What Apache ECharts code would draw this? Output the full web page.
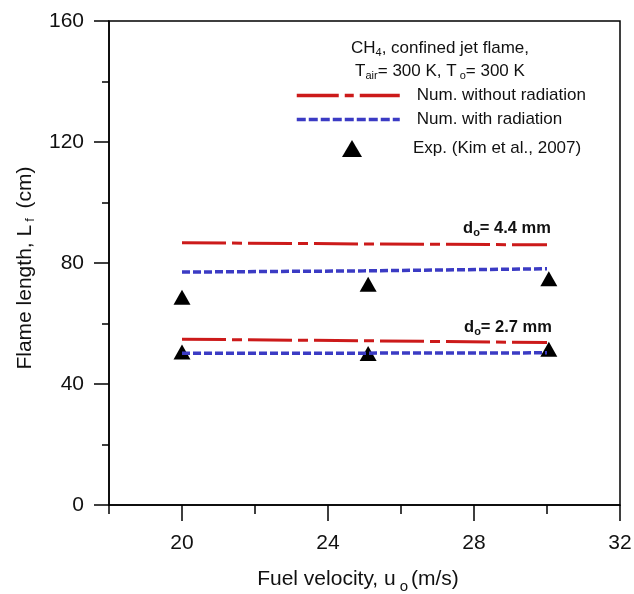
<!DOCTYPE html>
<html><head><meta charset="utf-8">
<script src="https://cdn.jsdelivr.net/npm/echarts@6/dist/echarts.min.js"></script>
<style>html,body{margin:0;padding:0;background:#fff}#c{width:634px;height:594px}</style>
</head><body><div id="c"></div>
<script>
const xTicks = [20, 24, 28, 32];
const xMinorTicks = [18, 22, 26, 30];
const lineX = [20, 25, 30];
const red44 = [86.7, 86.3, 86.0];
const blue44 = [77.0, 77.4, 78.1];
const red27 = [54.8, 54.3, 53.7];
const blue27 = [50.2, 50.2, 50.3];
const expX = [20, 25.1, 30.05];
const exp44 = [68.7, 73.0, 74.8];
const exp27 = [50.6, 50.1, 51.5];

const FONT = 'Liberation Sans, Arial, sans-serif';
const TXT = '#111';
const RED = '#cc1a1a', BLUE = '#3b3bc4';
const zip = (xs, ys) => xs.map((x, i) => [x, ys[i]]);

const redStyle = {color: RED, width: 3, type: [44, 6, 10, 6]};
const blueStyle = {color: BLUE, width: 3.5, type: [8, 3]};
const subRich = (fs, extra) => ({sub: Object.assign({fontSize: fs, verticalAlign: 'bottom', padding: [9, 0, 0, 0]}, extra || {})});

const chart = echarts.init(document.getElementById('c'));
chart.setOption({
  animation: false,
  textStyle: {fontFamily: FONT},
  grid: {left: 109, right: 14, top: 21, bottom: 89, show: true, borderColor: '#000', borderWidth: 1.5,
    containLabel: false, outerBoundsMode: 'none'},
  xAxis: [{
    type: 'value', min: 18, max: 32, position: 'bottom',
    axisLine: {show: true, lineStyle: {color: '#000', width: 1.5}},
    axisTick: {show: true, length: 16, customValues: xTicks, lineStyle: {color: '#000', width: 1.5}},
    axisLabel: {customValues: xTicks, color: TXT, fontSize: 21, margin: 28, fontFamily: FONT},
    splitLine: {show: false},
    name: 'Fuel velocity, u{sub|o}(m/s)', nameLocation: 'middle', nameGap: 60,
    nameTextStyle: {fontSize: 21, color: TXT, fontFamily: FONT, padding: [0, 13, 0, 0],
      rich: {sub: {fontSize: 15, verticalAlign: 'bottom', padding: [14, 3, 0, 4]}}}
  }, {
    type: 'value', min: 18, max: 32, position: 'bottom',
    axisLine: {show: false},
    axisTick: {show: true, length: 9, customValues: xMinorTicks, lineStyle: {color: '#000', width: 1.5}},
    axisLabel: {show: false}, splitLine: {show: false}
  }],
  yAxis: [{
    type: 'value', min: 0, max: 160, interval: 40, position: 'left',
    axisLine: {show: true, lineStyle: {color: '#000', width: 1.5}},
    axisTick: {show: true, length: 15, lineStyle: {color: '#000', width: 1.5}},
    minorTick: {show: true, splitNumber: 2, length: 7, lineStyle: {color: '#000', width: 1.5}},
    axisLabel: {color: TXT, fontSize: 21, margin: 25, fontFamily: FONT},
    splitLine: {show: false}, minorSplitLine: {show: false},
    name: 'Flame length, L{sub|f} (cm)', nameLocation: 'middle', nameGap: 72,
    nameTextStyle: {fontSize: 21, color: TXT, fontFamily: FONT, padding: [0, 10, 0, 0],
      rich: {sub: {fontSize: 13, verticalAlign: 'bottom', padding: [11, 4, 0, 3]}}}
  }],
  legend: [{
    data: [
      {name: 'Num. without radiation', itemStyle: {opacity: 0}, lineStyle: {color: RED, width: 3.5, type: [42, 6, 9, 6]}},
      {name: 'Num. with radiation', itemStyle: {opacity: 0}, lineStyle: {color: BLUE, width: 3.5, type: [9, 3]}}
    ],
    orient: 'vertical', left: 290, top: 82, itemWidth: 103, itemHeight: 14, itemGap: 7,
    selectedMode: false,
    textStyle: {fontSize: 17, color: TXT, fontFamily: FONT, padding: [0, 0, 0, 12]}
  }, {
    data: [{name: 'Exp. (Kim et al., 2007)', icon: 'triangle', itemStyle: {color: '#000', opacity: 1}}],
    orient: 'vertical', left: 337, top: 135, itemWidth: 20, itemHeight: 17,
    selectedMode: false,
    textStyle: {fontSize: 17, color: TXT, fontFamily: FONT, padding: [0, 0, 0, 46]}
  }],
  graphic: [{
    type: 'text', x: 440, y: 48,
    style: {text: 'CH{sub|4}, confined jet flame,', fontSize: 17, fontFamily: FONT, fill: TXT, align: 'center', verticalAlign: 'middle',
      rich: subRich(11)}
  }, {
    type: 'text', x: 440, y: 71,
    style: {text: 'T{sub|air}= 300 K, T{sub| o}= 300 K', fontSize: 17, fontFamily: FONT, fill: TXT, align: 'center', verticalAlign: 'middle',
      rich: subRich(11)}
  }, {
    type: 'text', x: 507, y: 228,
    style: {text: 'd{sub|o}= 4.4 mm', fontSize: 16.5, fontWeight: 'bold', fontFamily: FONT, fill: TXT, align: 'center', verticalAlign: 'middle',
      rich: subRich(11, {fontWeight: 'bold'})}
  }, {
    type: 'text', x: 508, y: 327,
    style: {text: 'd{sub|o}= 2.7 mm', fontSize: 16.5, fontWeight: 'bold', fontFamily: FONT, fill: TXT, align: 'center', verticalAlign: 'middle',
      rich: subRich(11, {fontWeight: 'bold'})}
  }],
  series: [
    {name: 'Exp. (Kim et al., 2007)', type: 'scatter', data: zip(expX, exp44), symbol: 'triangle', symbolSize: [17, 15], itemStyle: {color: '#000', opacity: 1}, z: 1},
    {name: 'Exp. (Kim et al., 2007)', type: 'scatter', data: zip(expX, exp27), symbol: 'triangle', symbolSize: [17, 15], itemStyle: {color: '#000', opacity: 1}, z: 1},
    {name: 'Num. without radiation', type: 'line', data: zip(lineX, red44), showSymbol: false, symbol: 'none', lineStyle: redStyle, itemStyle: {color: RED}, z: 3},
    {name: 'Num. with radiation', type: 'line', data: zip(lineX, blue44), showSymbol: false, symbol: 'none', lineStyle: blueStyle, itemStyle: {color: BLUE}, z: 3},
    {name: 'Num. without radiation', type: 'line', data: zip(lineX, red27), showSymbol: false, symbol: 'none', lineStyle: redStyle, itemStyle: {color: RED}, z: 3},
    {name: 'Num. with radiation', type: 'line', data: zip(lineX, blue27), showSymbol: false, symbol: 'none', lineStyle: blueStyle, itemStyle: {color: BLUE}, z: 3}
  ]
});
</script></body></html>
